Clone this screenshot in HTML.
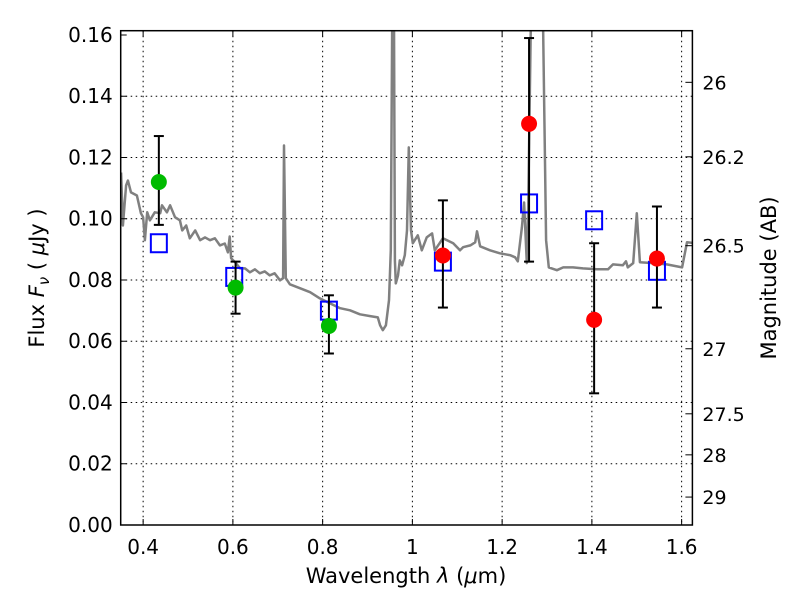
<!DOCTYPE html>
<html><head><meta charset="utf-8"><style>
body{margin:0;background:#fff;}
svg{display:block;font-family:"DejaVu Sans","Liberation Sans",sans-serif;}
</style></head><body>
<svg id="chart" width="800" height="600" viewBox="0 0 800 600">
<rect width="800" height="600" fill="#fff"/>
<defs><clipPath id="pc"><rect x="120.7" y="30.7" width="571.7" height="494.3"/></clipPath></defs>
<g id="grid"></g>
<g id="spec" clip-path="url(#pc)"></g>
<g id="marks"></g>
<rect x="120.7" y="30.7" width="571.7" height="494.3" fill="none" stroke="#000" stroke-width="1.5"/>
<g id="axes"></g>
<text x="406" y="583" font-size="21" text-anchor="middle">Wavelength  <tspan font-style="italic">λ</tspan> (<tspan font-style="italic">μ</tspan>m)</text>
<text transform="translate(44,278) rotate(-90)" font-size="21" text-anchor="middle">Flux  <tspan font-style="italic">F</tspan><tspan font-style="italic" font-size="15" dy="5">ν</tspan><tspan dy="-5">  ( </tspan><tspan font-style="italic">μ</tspan>Jy )</text>
<text transform="translate(776,278) rotate(-90)" font-size="21" text-anchor="middle">Magnitude (AB)</text>
</svg>
<script>
const xTicks=[0.4,0.6,0.8,1.0,1.2,1.4,1.6];
const xTickLabels=["0.4","0.6","0.8","1","1.2","1.4","1.6"];
const yTicks=[0,0.02,0.04,0.06,0.08,0.10,0.12,0.14,0.16];
const yTickLabels=["0.00","0.02","0.04","0.06","0.08","0.10","0.12","0.14","0.16"];
const magTicks=[26,26.2,26.5,27,27.5,28,29];
const magTickLabels=["26","26.2","26.5","27","27.5","28","29"];
const specWave=[0.351,0.355,0.362,0.366,0.373,0.386,0.395,0.400,0.404,0.409,0.415,0.426,0.438,0.442,0.453,0.460,0.471,0.482,0.487,0.496,0.504,0.516,0.527,0.538,0.549,0.560,0.571,0.582,0.589,0.593,0.596,0.605,0.616,0.627,0.638,0.649,0.660,0.671,0.682,0.693,0.705,0.712,0.714,0.718,0.727,0.750,0.772,0.794,0.816,0.839,0.861,0.883,0.906,0.923,0.928,0.934,0.941,0.948,0.952,0.955,0.959,0.961,0.963,0.968,0.972,0.977,0.983,0.988,0.992,0.997,1.001,1.012,1.021,1.032,1.044,1.050,1.068,1.091,1.106,1.113,1.129,1.140,1.144,1.151,1.173,1.195,1.218,1.229,1.235,1.244,1.249,1.255,1.258,1.264,1.291,1.298,1.304,1.322,1.336,1.358,1.380,1.411,1.436,1.447,1.469,1.476,1.480,1.492,1.500,1.507,1.536,1.567,1.601,1.612,1.630];
const specFlux=[0.1151,0.0978,0.1109,0.1125,0.1086,0.1076,0.1018,0.1005,0.0930,0.1021,0.0995,0.1021,0.1018,0.1044,0.1021,0.1044,0.1005,0.0995,0.0962,0.0978,0.0936,0.0962,0.0930,0.0939,0.0930,0.0936,0.0913,0.0919,0.0890,0.0942,0.0871,0.0858,0.0838,0.0838,0.0825,0.0835,0.0822,0.0828,0.0815,0.0822,0.0799,0.0806,0.1239,0.0806,0.0786,0.0773,0.0760,0.0740,0.0724,0.0708,0.0701,0.0688,0.0682,0.0678,0.0652,0.0636,0.0652,0.0734,0.0897,0.165,0.165,0.0864,0.0789,0.0815,0.0864,0.0848,0.0881,0.0962,0.1233,0.0962,0.0920,0.0946,0.0897,0.0939,0.0952,0.0897,0.0936,0.0920,0.0897,0.0907,0.0913,0.0923,0.0959,0.0910,0.0897,0.0887,0.0881,0.0874,0.0861,0.0972,0.1053,0.0855,0.1037,0.165,0.165,0.0930,0.0841,0.0832,0.0841,0.0841,0.0838,0.0835,0.0835,0.0851,0.0848,0.0861,0.0841,0.0855,0.1018,0.0858,0.0855,0.0851,0.0841,0.0923,0.0920];
const greenWave=[0.435,0.606,0.814];
const greenFlux=[0.112,0.0775,0.065];
const greenLo=[0.098,0.069,0.056];
const greenHi=[0.127,0.086,0.075];
const redWave=[1.068,1.260,1.405,1.545];
const redFlux=[0.088,0.131,0.067,0.087];
const redLo=[0.071,0.086,0.043,0.071];
const redHi=[0.106,0.159,0.092,0.104];
const modelWave=[0.435,0.603,0.814,1.068,1.260,1.405,1.545];
const modelFlux=[0.092,0.081,0.070,0.086,0.105,0.0995,0.083];

const X0=120.7,X1=692.4,Y0=525,Y1=30.7,xmin=0.35,xmax=1.624,ymin=0,ymax=0.1614;
const sx=v=>X0+(v-xmin)/(xmax-xmin)*(X1-X0);
const sy=v=>Y0-(v-ymin)/(ymax-ymin)*(Y0-Y1);
const magToFlux=m=>Math.pow(10,(23.9-m)/2.5);
const NS="http://www.w3.org/2000/svg";
function mk(tag,attrs,parent){const e=document.createElementNS(NS,tag);for(const k in attrs)e.setAttribute(k,attrs[k]);parent.appendChild(e);return e;}
const grid=document.getElementById('grid'),axes=document.getElementById('axes'),spec=document.getElementById('spec'),marks=document.getElementById('marks');

xTicks.forEach((v,i)=>{const x=sx(v);
 const g=mk('line',{x1:x,x2:x,y1:Y1,y2:Y0,stroke:'#000','stroke-width':1,'stroke-dasharray':'1.5,3.5'},grid);
 
 mk('line',{x1:x,x2:x,y1:Y0,y2:Y0-6,stroke:'#000','stroke-width':1},axes);
 mk('line',{x1:x,x2:x,y1:Y1,y2:Y1+6,stroke:'#000','stroke-width':1},axes);
 const t=mk('text',{x:x,y:Y0+29,'font-size':20,'text-anchor':'middle'},axes);t.textContent=xTickLabels[i];
 
});
yTicks.forEach((v,i)=>{const y=sy(v);
 if(v>0&&v<0.16){const g=mk('line',{x1:X0,x2:X1,y1:y,y2:y,stroke:'#000','stroke-width':1,'stroke-dasharray':'1.5,3.5'},grid);
 }
 mk('line',{x1:X0,x2:X0+6,y1:y,y2:y,stroke:'#000','stroke-width':1},axes);
 const t=mk('text',{x:X0-8,y:y+7,'font-size':20,'text-anchor':'end'},axes);t.textContent=yTickLabels[i];
 
});
magTicks.forEach((m,i)=>{const y=sy(magToFlux(m));
 mk('line',{x1:X1,x2:X1-7,y1:y,y2:y,stroke:'#000','stroke-width':1},axes);
 const t=mk('text',{x:X1+10,y:y+7,'font-size':19,'text-anchor':'start'},axes);t.textContent=magTickLabels[i];
 
});

const pts=specWave.map((w,i)=>sx(w).toFixed(1)+','+sy(specFlux[i]).toFixed(1)).join(' ');
const pl=mk('polyline',{points:pts,fill:'none',stroke:'#808080','stroke-width':2.5,'stroke-linejoin':'round'},spec);


function errbar(x,lo,hi){const g=mk('g',{stroke:'#000','stroke-width':2},marks);
 
 mk('line',{x1:sx(x),x2:sx(x),y1:sy(lo),y2:sy(hi)},g);
 mk('line',{x1:sx(x)-5,x2:sx(x)+5,y1:sy(lo),y2:sy(lo)},g);
 mk('line',{x1:sx(x)-5,x2:sx(x)+5,y1:sy(hi),y2:sy(hi)},g);}
modelWave.forEach((w,i)=>{const r=mk('rect',{x:sx(w)-8,y:sy(modelFlux[i])-9,width:16,height:18,fill:'none',stroke:'#0000ff','stroke-width':2},marks);
 });
greenWave.forEach((w,i)=>{errbar(w,greenLo[i],greenHi[i]);
 const c=mk('circle',{cx:sx(w),cy:sy(greenFlux[i]),r:8,fill:'#00bb00'},marks);
 });
redWave.forEach((w,i)=>{errbar(w,redLo[i],redHi[i]);
 const c=mk('circle',{cx:sx(w),cy:sy(redFlux[i]),r:8,fill:'#ff0000'},marks);
 });
</script>
</body></html>
